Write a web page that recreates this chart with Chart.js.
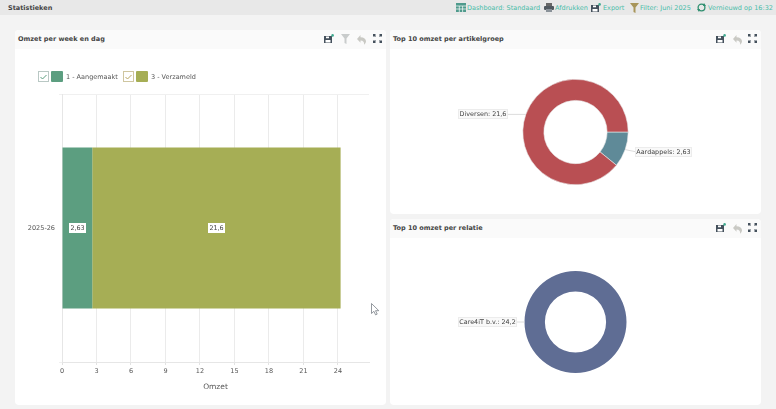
<!DOCTYPE html>
<html><head><meta charset="utf-8">
<script src="https://cdn.jsdelivr.net/npm/chart.js@4"></script>
<style>
html,body{margin:0;padding:0;background:#f3f3f3;overflow:hidden}
#page{position:relative;width:776px;height:409px;background:#f3f3f3;font-family:"DejaVu Sans",sans-serif;filter:blur(.35px)}
#top{position:absolute;left:0;top:0;width:776px;height:15px;background:#e8e8e8}
.t{position:absolute;white-space:nowrap}
.panel{position:absolute;background:#fff;border-radius:4px;overflow:hidden}
.phead{position:absolute;left:0;top:0;right:0;height:19px;background:#fafafa}
.ptitle{position:absolute;left:3px;top:5px;font:bold 6.5px "DejaVu Sans",sans-serif;color:#444;white-space:nowrap}
canvas{position:absolute;display:block}
svg{position:absolute;overflow:visible}
.nav{top:4px;font:6.5px "DejaVu Sans",sans-serif;color:#49bda9}
.leg{position:absolute;top:71px;height:11px;font:6.5px "DejaVu Sans",sans-serif;color:#555}
.leg i{position:absolute;top:0;width:9px;height:9px;border:1px solid #b9c8c4;background:#fff;box-sizing:content-box}
.leg b{position:absolute;left:13px;top:0;width:12px;height:11px;border-radius:1px}
.leg span{position:absolute;left:28px;top:2px;white-space:nowrap}
</style></head><body>
<div id="page">
  <div id="top"></div>
  <div class="t" style="left:8px;top:4px;font:bold 6.5px 'DejaVu Sans',sans-serif;color:#444">Statistieken</div>
  <div class="panel" id="p1" style="left:15px;top:30px;width:371px;height:375px"><div class="phead"></div><div class="ptitle">Omzet per week en dag</div></div>
  <div class="panel" id="p2" style="left:390px;top:30px;width:371px;height:184px"><div class="phead"></div><div class="ptitle">Top 10 omzet per artikelgroep</div></div>
  <div class="panel" id="p3" style="left:390px;top:219px;width:371px;height:186px"><div class="phead"></div><div class="ptitle">Top 10 omzet per relatie</div></div>
  <canvas id="c1" style="left:15px;top:49px;width:371px;height:356px"></canvas>
  <canvas id="c2" style="left:390px;top:49px;width:371px;height:165px"></canvas>
  <canvas id="c3" style="left:390px;top:238px;width:371px;height:167px"></canvas>
</div>
<script>
// ---- data ----
const weekCategories = ["2025-26"];
const statusNames = ["1 - Aangemaakt", "3 - Verzameld"];
const statusValues = [2.63, 21.6];
const statusColors = ["#5c9e80", "#a6ae55"];
const xTickStep = 3;
const xAxisMax = 26.7;
const xAxisTitle = "Omzet";
const groupNames = ["Aardappels", "Diversen"];
const groupValues = [2.63, 21.6];
const groupColors = ["#5f8a98", "#b94f53"];
const relationNames = ["Care4iT b.v."];
const relationValues = [24.2];
const relationColors = ["#5f6d94"];

const FONT = '"DejaVu Sans", sans-serif';
const nl = v => String(v).replace('.', ',');
Chart.defaults.devicePixelRatio = 1;
Chart.defaults.animation = false;
Chart.defaults.responsive = false;
Chart.defaults.font.family = FONT;
Chart.defaults.font.size = 6.5;

function size(id){const c=document.getElementById(id);c.width=parseInt(c.style.width);c.height=parseInt(c.style.height);return c;}

function labelBox(ctx, text, cx, cy, framed){
  ctx.save();
  ctx.font = '6.4px ' + FONT;
  const w = Math.round(ctx.measureText(text).width + 3), h = 10;
  const x = Math.round(cx - w/2), y = Math.round(cy - h/2);
  ctx.fillStyle = framed ? '#f9f9f9' : '#fff';
  ctx.fillRect(x, y, w, h);
  if (framed) {
    ctx.strokeStyle = '#ececec'; ctx.lineWidth = 1;
    ctx.strokeRect(x + .5, y + .5, w - 1, h - 1);
  }
  ctx.fillStyle = '#444'; ctx.textAlign = 'center'; ctx.textBaseline = 'middle';
  ctx.fillText(text, x + w/2, y + h/2 + .5);
  ctx.restore();
}

const barLabels = {id:'barLabels', afterDatasetsDraw(chart){
  chart.data.datasets.forEach((ds,i)=>{
    chart.getDatasetMeta(i).data.forEach((el,j)=>{
      const p = el.getProps(['x','base','y']);
      labelBox(chart.ctx, nl(ds.data[j]), (p.x+p.base)/2, p.y, false);
    });
  });
}};

const pieLabels = {id:'pieLabels', afterDatasetsDraw(chart, args, opts){
  const ctx = chart.ctx;
  chart.getDatasetMeta(0).data.forEach((arc,i)=>{
    const p = arc.getProps(['x','y','startAngle','endAngle','outerRadius']);
    const a = (p.startAngle+p.endAngle)/2, r = p.outerRadius;
    const ax = p.x+Math.cos(a)*r, ay = p.y+Math.sin(a)*r;
    const right = Math.cos(a) > 0;
    const gap = right ? opts.gapRight : opts.gapLeft;
    const ly = ay + (right ? 2 : 0);
    const text = chart.data.labels[i] + ': ' + nl(chart.data.datasets[0].data[i]);
    ctx.save(); ctx.font = '6.4px ' + FONT;
    const w = Math.round(ctx.measureText(text).width + 3);
    ctx.strokeStyle = '#dcdcdc'; ctx.lineWidth = 1;
    ctx.beginPath(); ctx.moveTo(ax, ay); ctx.lineTo(ax + (right ? gap : -gap), ly); ctx.stroke();
    ctx.restore();
    labelBox(ctx, text, ax + (right ? gap + w/2 : -gap - w/2), ly, true);
  });
}};

new Chart(size('c1'), {
  type:'bar',
  data:{labels:weekCategories, datasets:statusNames.map((n,i)=>({
    label:n, data:[statusValues[i]], backgroundColor:statusColors[i],
    barPercentage:.6, categoryPercentage:1
  }))},
  options:{
    indexAxis:'y',
    layout:{padding:{top:45,right:17,bottom:0,left:0}},
    plugins:{legend:{display:false},tooltip:{enabled:false}},
    scales:{
      x:{stacked:true,min:0,max:xAxisMax,
        afterFit(s){s.height=43;},
        ticks:{stepSize:xTickStep,includeBounds:false,maxRotation:0,color:'#555',padding:2,font:{size:6.5}},
        grid:{color:'#ebebeb',tickLength:3,tickColor:'#e2e2e2'},border:{color:'#e6e6e6'},
        title:{display:true,text:xAxisTitle,color:'#555',font:{size:7.5},padding:{top:3,bottom:13}}},
      y:{stacked:true,
        afterFit(s){s.width=47;},
        ticks:{color:'#555',padding:4,font:{size:6.5}},
        grid:{display:true,color:'#f0f0f0',tickLength:3,tickColor:'#f0f0f0'},border:{color:'#e6e6e6'}}
    }
  },
  plugins:[barLabels]
});

function donut(id,labels,values,colors,padTop,padBottom){
  new Chart(size(id),{
    type:'doughnut',
    data:{labels,datasets:[{data:values,backgroundColor:colors,borderColor:'#e9e9e9',borderWidth:labels.length>1?.6:0}]},
    options:{rotation:90,cutout:'60%',
      layout:{padding:{top:padTop,bottom:padBottom}},
      plugins:{legend:{display:false},tooltip:{enabled:false},
        pieLabels:{gapLeft:labels.length>1?18:8,gapRight:10}}},
    plugins:[pieLabels]
  });
}
donut('c2',groupNames,groupValues,groupColors,30,29);
donut('c3',relationNames,relationValues,relationColors,33,32);

// ---- page furniture ----
const page = document.getElementById('page');
function add(html){page.insertAdjacentHTML('beforeend',html);}
const navItems = [["Dashboard: Standaard",467],["Afdrukken",555],["Export",603],["Filter: Juni 2025",640],["Vernieuwd op 16:32",708]];
navItems.forEach(([t,x])=>add(`<div class="t nav" style="left:${x}px">${t}</div>`));

const ic = {
 exp:(c='#44505c')=>`<path d="M0 2h8v7H0z" fill="${c}"/><path d="M2 2.6h3v1.6H2zM1.5 6h5v2.4h-5z" fill="#fff"/><circle cx="8.6" cy="1.4" r="1.3" fill="#3fa98f"/>`,
 fil:(c)=>`<path d="M0 0h9L5.5 4.5V10L3.5 9V4.5z" fill="${c}"/>`,
 und:(c)=>`<path d="M3.5 0v2.2C7 2.2 9 4 9 6.3c0 1.5-1 2.8-2 3.5 .6-2.6-.8-4.2-3.5-4.2v2.2L0 3.9z" fill="${c}"/>`,
 ful:(c='#44505c')=>`<path d="M0 0h3L2 1l1 1-1 1-1-1-1 1zM9 0H6l1 1-1 1 1 1 1-1 1 1zM0 9h3L2 8l1-1-1-1-1 1-1-1zM9 9H6l1-1-1-1 1-1 1 1 1-1z" fill="${c}"/>`,
 grid:()=>`<rect width="10" height="9" fill="#4f9a8c"/><path d="M0 3h10M0 6h10M3.3 3v6M6.6 3v6" stroke="#fff" stroke-width=".7"/>`,
 print:()=>`<rect x="2" width="6" height="3" fill="#666"/><rect y="3" width="10" height="4" rx="1" fill="#50585f"/><rect x="2" y="6" width="6" height="3" fill="#8a9299"/>`,
 ref:()=>`<circle cx="4.5" cy="4.5" r="3.4" fill="none" stroke="#2f8f6f" stroke-width="1.3"/><path d="M7 0l2 3H6zM2 9L0 6h3z" fill="#2f8f6f"/>`
};
function icon(x,y,body){add(`<svg style="left:${x}px;top:${y}px" width="10" height="10">${body}</svg>`);}
icon(456,3,ic.grid()); icon(544,3,ic.print()); icon(591,3,ic.exp());
icon(630,3,ic.fil('#a8955a')); icon(697,3,ic.ref());
icon(324,34,ic.exp()); icon(341,34,ic.fil('#c9cccc')); icon(357,35,ic.und('#c9c9c4')); icon(373,34,ic.ful());
icon(716,34,ic.exp()); icon(733,35,ic.und('#c9c9c4')); icon(748,34,ic.ful());
icon(716,223,ic.exp()); icon(733,224,ic.und('#c9c9c4')); icon(748,223,ic.ful());

// legend
const legX = [38,123];
const checkColor = ['#5c9e80','#b9a765'];
statusNames.forEach((n,i)=>{
  add(`<div class="leg" style="left:${legX[i]}px"><i style="border-color:${i?'#cfc6a0':'#b9c8c4'}"></i><b style="background:${statusColors[i]}"></b><span>${n}</span>
  <svg style="left:2px;top:3px" width="7" height="6"><path d="M.5 3l2 2 4-4" fill="none" stroke="${checkColor[i]}" stroke-width="1"/></svg></div>`);
});

// mouse pointer
add(`<svg style="left:371px;top:303px" width="9" height="13"><path d="M.5.5v10l2.4-2.2 1.7 3.6 1.6-.8-1.7-3.4h3.3z" fill="#fff" stroke="#7a8088" stroke-width=".8"/></svg>`);
</script>
</body></html>
